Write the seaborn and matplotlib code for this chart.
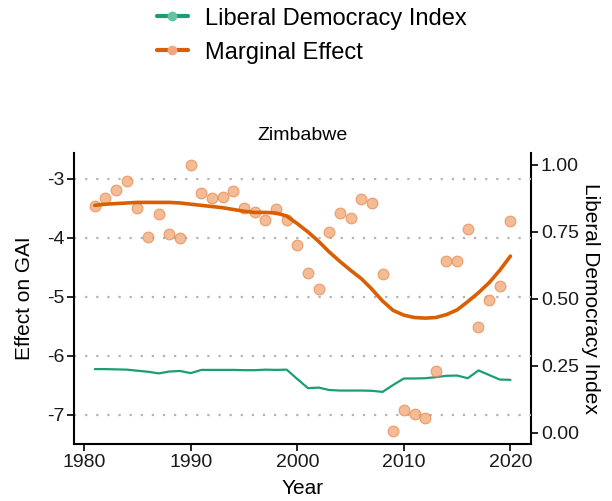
import numpy as np
import pandas as pd
import matplotlib
matplotlib.use("Agg")
import matplotlib.pyplot as plt
import seaborn as sns
from matplotlib.lines import Line2D

years = list(range(1981, 2021))

# raw marginal effect points (left axis)
effect_points = [
    -3.46, -3.33, -3.19, -3.04, -3.50, -3.99, -3.60, -3.94, -4.01, -2.76,
    -3.24, -3.32, -3.31, -3.20, -3.50, -3.57, -3.69, -3.52, -3.69, -4.12,
    -4.60, -4.86, -3.90, -3.58, -3.66, -3.35, -3.41, -4.62, -7.28, -6.91,
    -6.98, -7.06, -6.25, -4.40, -4.40, -3.85, -5.51, -5.06, -4.82, -3.72,
]

# smoothed marginal effect (left axis)
effect_smooth = [
    -3.45, -3.43, -3.42, -3.41, -3.40, -3.40, -3.40, -3.40, -3.41, -3.43,
    -3.45, -3.47, -3.49, -3.52, -3.55, -3.57, -3.57, -3.58, -3.63, -3.76,
    -3.90, -4.06, -4.24, -4.40, -4.55, -4.69, -4.87, -5.07, -5.23, -5.31,
    -5.35, -5.36, -5.35, -5.30, -5.22, -5.08, -4.93, -4.76, -4.55, -4.31,
]

# liberal democracy index (right axis)
ldi = [
    0.238, 0.238, 0.237, 0.236, 0.232, 0.228, 0.222, 0.229, 0.231, 0.223,
    0.235, 0.235, 0.235, 0.235, 0.234, 0.234, 0.236, 0.235, 0.236, 0.201,
    0.167, 0.169, 0.160, 0.158, 0.158, 0.158, 0.157, 0.153, 0.179, 0.203,
    0.203, 0.204, 0.208, 0.213, 0.214, 0.204, 0.233, 0.216, 0.199, 0.198,
]

left_ticks = [-3, -4, -5, -6, -7]
right_ticks = [0.00, 0.25, 0.50, 0.75, 1.00]
x_ticks = [1980, 1990, 2000, 2010, 2020]

GREEN = "#1b9e77"
ORANGE = "#d95f02"

df = pd.DataFrame({
    "year": years,
    "points": effect_points,
    "smooth": effect_smooth,
    "ldi": ldi,
})

sns.set_theme(style="white")
plt.rcParams["font.family"] = ["Liberation Sans", "DejaVu Sans"]

fig, ax = plt.subplots(figsize=(6.12, 5.01), dpi=100)
fig.subplots_adjust(left=0.121, right=0.868, top=0.695, bottom=0.114)
ax2 = ax.twinx()

# dotted grid at left ticks
for t in left_ticks:
    ax.axhline(t, color="#b3b3b3", linestyle=(0, (1, 4)), linewidth=1.6, zorder=0)

sns.lineplot(data=df, x="year", y="ldi", ax=ax2, color=GREEN, linewidth=1.6)
sns.scatterplot(data=df, x="year", y="points", ax=ax, color="#f0a473",
                alpha=0.75, s=60, edgecolor="#e8894a", linewidth=0.8, zorder=3)
sns.lineplot(data=df, x="year", y="smooth", ax=ax, color=ORANGE,
             linewidth=2.6, zorder=4)

ax.set_zorder(ax2.get_zorder() + 1)
ax.patch.set_visible(False)

ax.set_xlim(1979.05, 2021.95)
ax.set_ylim(-7.49, -2.56)
ax2.set_ylim(-0.041, 1.045)
ax.set_xticks(x_ticks)
ax.set_yticks(left_ticks)
ax.set_yticklabels([str(t) for t in left_ticks])
ax2.set_yticks(right_ticks)
ax2.set_yticklabels([f"{t:.2f}" for t in right_ticks])

ax.set_xlabel("Year", fontsize=15, color="black", labelpad=6)
ax.set_ylabel("Effect on GAI", fontsize=15, color="black", labelpad=9)
ax2.set_ylabel("Liberal Democracy Index", fontsize=15, color="black",
               rotation=270, labelpad=15)
ax.set_title("Zimbabwe", fontsize=14, pad=9, color="black")

for a in (ax, ax2):
    for side in ("left", "right", "bottom", "top"):
        a.spines[side].set_visible(False)
ax.spines["left"].set_visible(True)
ax.spines["bottom"].set_visible(True)
ax2.spines["right"].set_visible(True)
for s in (ax.spines["left"], ax.spines["bottom"], ax2.spines["right"]):
    s.set_color("black")
    s.set_linewidth(1.5)

ax.tick_params(axis="both", which="both", direction="out", length=5, width=1.2,
               color="black", labelsize=14, labelcolor="#1a1a1a",
               left=True, bottom=True, pad=2)
ax2.tick_params(axis="y", direction="out", length=5, width=1.2,
                color="black", labelsize=14, labelcolor="#1a1a1a", right=True, pad=2)

handles = [
    Line2D([0], [0], color=GREEN, linewidth=3, marker="o", markersize=6,
           markerfacecolor="#66c2a5", markeredgecolor="#66c2a5"),
    Line2D([0], [0], color=ORANGE, linewidth=3, marker="o", markersize=6,
           markerfacecolor="#f4a582", markeredgecolor="#f4a582"),
]
fig.legend(handles, ["Liberal Democracy Index", "Marginal Effect"],
           loc="upper center", bbox_to_anchor=(0.51, 1.027), frameon=False,
           fontsize=17, handlelength=1.3, handletextpad=0.75, labelspacing=0.5,
           labelcolor="black")

fig.savefig("out.png", dpi=100)
